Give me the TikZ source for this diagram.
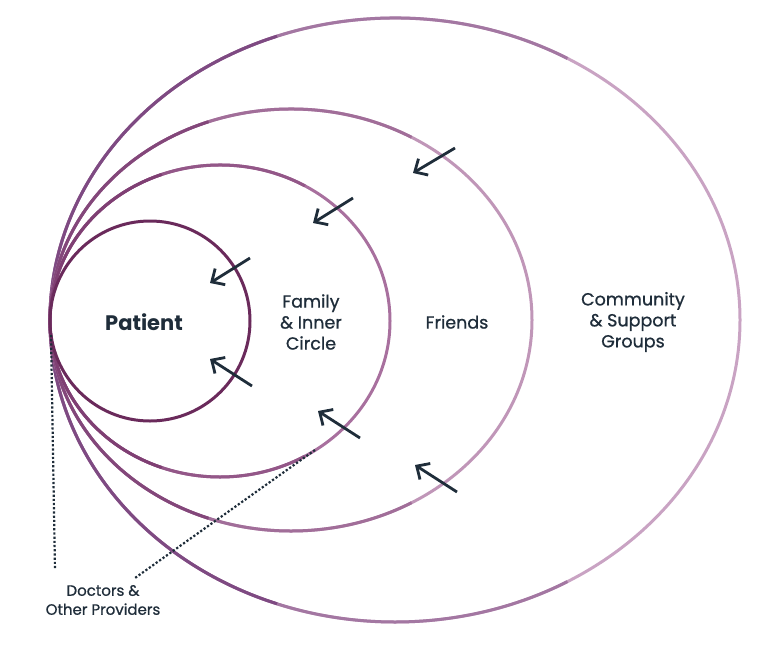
\documentclass[tikz,border=0pt]{standalone}
\usepackage{fontspec}
\setmainfont{Poppins}
\newfontfamily\medfont[FakeBold=0.8]{Poppins}
\usetikzlibrary{arrows.meta}
\definecolor{c1}{HTML}{6A2A5B}
\definecolor{c2l}{HTML}{7F3F73}
\definecolor{c2r}{HTML}{A8709E}
\definecolor{c3l}{HTML}{83477A}
\definecolor{c3r}{HTML}{C096B8}
\definecolor{c4l}{HTML}{7E4A82}
\definecolor{c4r}{HTML}{C9A3C3}
\definecolor{ink}{HTML}{1F2D3A}
\tikzset{ring/.style={line width=3pt},
 push/.style={ink,line width=2.8pt,-{Straight Barb[length=10pt,width=19pt,line width=2.8pt]}},
 dotline/.style={ink,line width=2.2pt,dotted},
 lbl/.style={text=ink,font=\medfont\fontsize{17.5}{21}\selectfont,align=center}}
\begin{document}
\begin{tikzpicture}[x=1pt,y=-1pt]
\useasboundingbox (0,0) rectangle (768,646);
% rings: right part light, middle blend, left part dark
\draw[ring,c4r] (395,320) ellipse (345 and 302);
\draw[ring,c4r!50!c4l] (395,320) ++(-60:345 and 302) arc (-60:-300:345 and 302);
\draw[ring,c4l] (395,320) ++(-110:345 and 302) arc (-110:-250:345 and 302);
\draw[ring,c3r] (291,320) ellipse (241 and 211);
\draw[ring,c3r!50!c3l] (291,320) ++(-60:241 and 211) arc (-60:-300:241 and 211);
\draw[ring,c3l] (291,320) ++(-110:241 and 211) arc (-110:-250:241 and 211);
\draw[ring,c2r] (220,321) ellipse (170 and 156);
\draw[ring,c2r!50!c2l] (220,321) ++(-60:170 and 156) arc (-60:-300:170 and 156);
\draw[ring,c2l] (220,321) ++(-110:170 and 156) arc (-110:-250:170 and 156);
\draw[ring,c1] (150,321) circle (100);
% labels
\node[lbl,font=\fontsize{21}{24}\selectfont\bfseries] (pat) at (144,322) {Patient};
\node[lbl] (fam) at (311,322) {Family\\\& Inner\\Circle};
\node[lbl] (fri) at (457,322) {Friends};
\node[lbl] (com) at (633,322) {Community\\\& Support\\Groups};
\node[lbl,font=\medfont\fontsize{15}{19}\selectfont] (doc) at (103,600) {Doctors \&\\Other Providers};
% arrows
\coordinate (a1s) at (455,148); \coordinate (a1e) at (413,173);
\coordinate (a2s) at (353,198); \coordinate (a2e) at (313,223);
\coordinate (a3s) at (250,258); \coordinate (a3e) at (210,283);
\coordinate (a4s) at (252,386); \coordinate (a4e) at (210,359);
\coordinate (a5s) at (360,438); \coordinate (a5e) at (318,411);
\coordinate (a6s) at (457,492); \coordinate (a6e) at (415,465);
\foreach \i in {1,...,6} \draw[push] (a\i s) -- (a\i e);
% pointers
\coordinate (p1) at (51,335); \coordinate (p2) at (315,450);
\draw[dotline] (p1) -- (55,570);
\draw[dotline] (p2) -- (135,578);
\end{tikzpicture}
\end{document}
